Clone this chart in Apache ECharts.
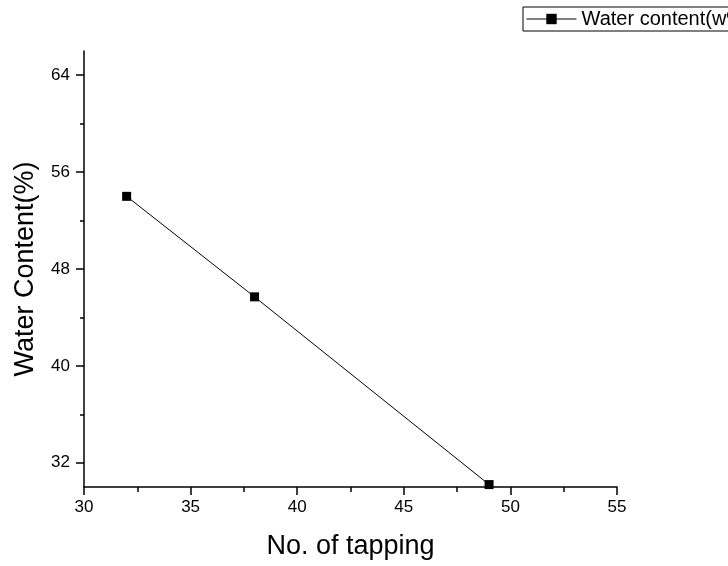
<!DOCTYPE html>
<html>
<head>
    <meta charset="utf-8">
    <title>Water content</title>
    <script src="https://cdn.jsdelivr.net/npm/echarts@6/dist/echarts.min.js"></script>
    <style type="text/css">
        html, body { margin: 0; padding: 0; background: #ffffff; }
        #chart { width: 728px; height: 566px; }
    </style>
</head>
<body>
<div id="chart"></div>
<script>
    // data
    var tapping = [32, 38, 49];
    var waterContent = [54.0, 45.7, 30.2];
    var yMajorTicks = [32, 40, 48, 56, 64];
    var yMinorTicks = [36, 44, 52, 60];
    var seriesName = 'Water content(w%)';

    var points = [];
    for (var i = 0; i < tapping.length; i++) {
        points.push([tapping[i], waterContent[i]]);
    }

    var font = '"Liberation Sans", Arial, sans-serif';
    var myChart = echarts.init(document.getElementById('chart'));

    var option = {
        backgroundColor: '#ffffff',
        animation: false,
        textStyle: { fontFamily: font },
        grid: { left: 84, right: 111, top: 51, bottom: 79, containLabel: false },
        legend: {
            left: 523, top: 7,
            padding: [2, 6, 2, 3],
            borderColor: '#000', borderWidth: 1,
            itemWidth: 50, itemHeight: 13, itemGap: 5,
            lineStyle: { width: 1 },
            textStyle: { fontFamily: font, fontSize: 20, color: '#000' },
            data: [seriesName]
        },
        xAxis: {
            type: 'value',
            min: 30, max: 55, interval: 5,
            name: 'No. of tapping',
            nameLocation: 'middle', nameGap: 46,
            nameTextStyle: { fontFamily: font, fontSize: 27, color: '#000' },
            axisLine: { show: true, lineStyle: { color: '#000', width: 1.5 } },
            axisTick: { show: true, length: 8, lineStyle: { color: '#000', width: 1.5 } },
            minorTick: { show: true, splitNumber: 2, length: 5, lineStyle: { color: '#000', width: 1.5 } },
            axisLabel: { fontFamily: font, fontSize: 17, color: '#000', margin: 12 },
            splitLine: { show: false }
        },
        yAxis: [{
            type: 'value',
            min: 30, max: 66,
            name: 'Water Content(%)',
            nameLocation: 'middle', nameGap: 45,
            nameTextStyle: { fontFamily: font, fontSize: 27, color: '#000' },
            axisLine: { show: true, lineStyle: { color: '#000', width: 1.5 } },
            axisTick: { show: true, length: 8, customValues: yMajorTicks, lineStyle: { color: '#000', width: 1.5 } },
            axisLabel: { fontFamily: font, fontSize: 17, color: '#000', margin: 14, customValues: yMajorTicks },
            splitLine: { show: false }
        }, {
            // second copy of the y axis, only for the short minor ticks
            type: 'value',
            position: 'left',
            min: 30, max: 66,
            axisLine: { show: false },
            axisTick: { show: true, length: 4, customValues: yMinorTicks, lineStyle: { color: '#000', width: 1.5 } },
            axisLabel: { show: false, customValues: yMinorTicks },
            splitLine: { show: false }
        }],
        series: [{
            name: seriesName,
            type: 'line',
            data: points,
            symbol: 'rect',
            symbolSize: 9,
            itemStyle: { color: '#000' },
            lineStyle: { color: '#000', width: 1 }
        }]
    };

    myChart.setOption(option);
</script>
</body>
</html>
